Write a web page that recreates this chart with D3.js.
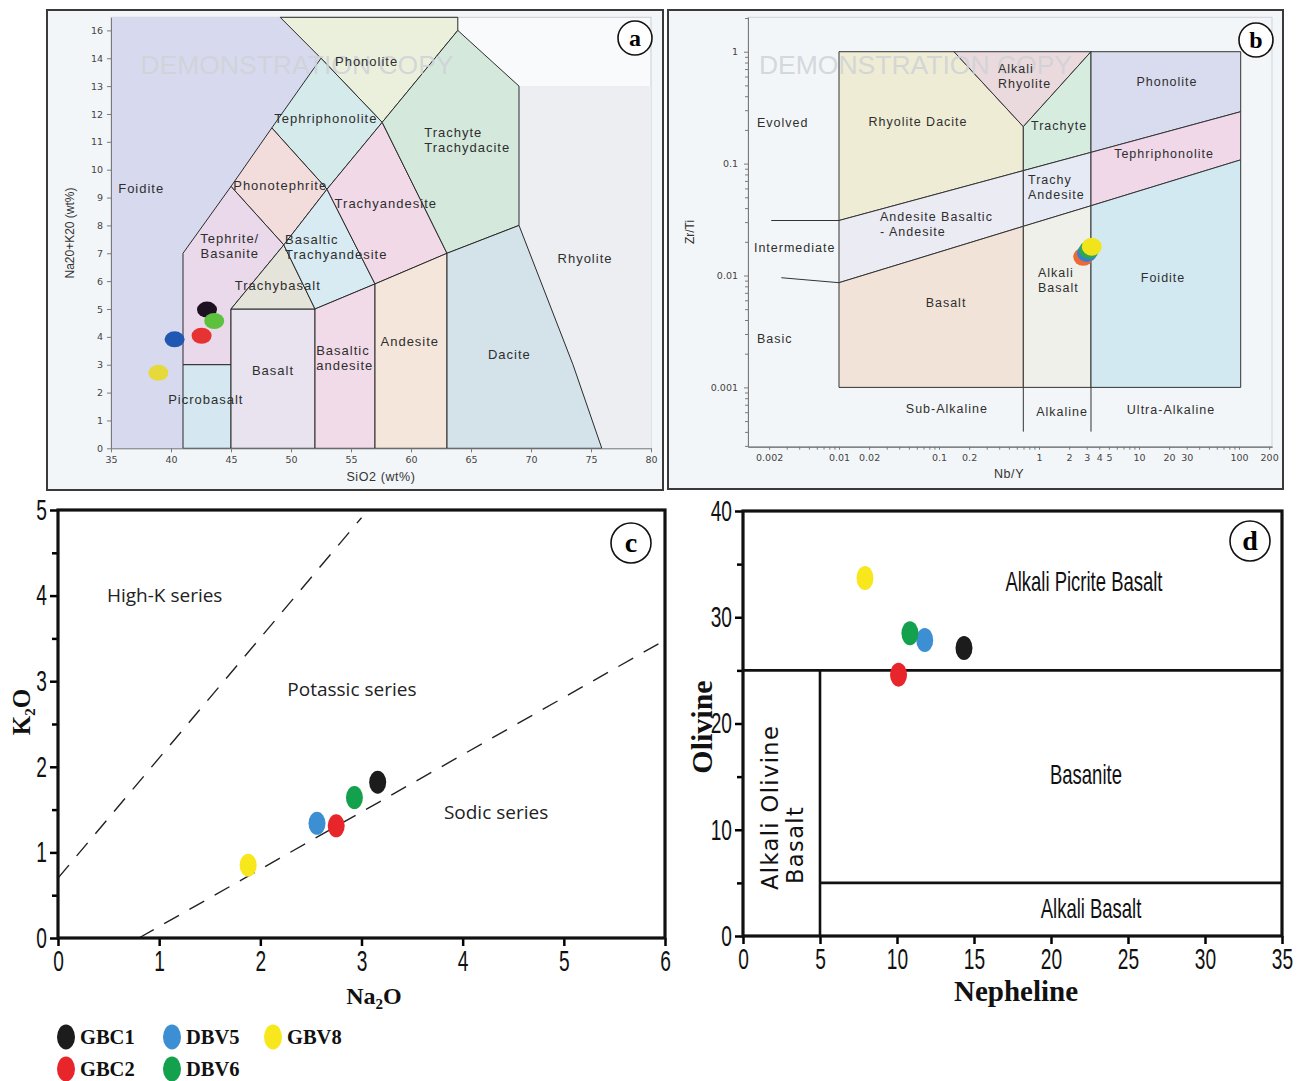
<!DOCTYPE html>
<html>
<head>
<meta charset="utf-8">
<script src="https://cdn.jsdelivr.net/npm/d3@7"></script>
<style>
  body { margin: 0; background: #fff; }
  svg { display: block; }
</style>
</head>
<body>
<svg id="chart" width="1308" height="1081"></svg>
<script>
// samples and their colours (legend + panels c, d)
const samples = ["GBC1", "GBC2", "DBV5", "DBV6", "GBV8"];
const sampleColors = ["#1c1c1c", "#e8252a", "#3c8fd3", "#14a14d", "#f8e71c"];
const legendOrder = ["GBC1", "DBV5", "GBV8", "GBC2", "DBV6"];

// panel a: TAS diagram (SiO2 vs Na2O+K2O)
const tasSiO2 = [43.0, 42.55, 40.3, 43.6, 38.95];
const tasAlkali = [4.98, 4.04, 3.91, 4.57, 2.71];
const tasColors = ["#1d1020", "#e53232", "#1f58b3", "#5cc13d", "#e6d93c"];
const tasOrder = [4, 2, 1, 0, 3];
const tasXTicks = [35, 40, 45, 50, 55, 60, 65, 70, 75, 80];
const tasYTicks = [0, 1, 2, 3, 4, 5, 6, 7, 8, 9, 10, 11, 12, 13, 14, 15];
const tasYTickLabels = ["0", "1", "2", "3", "4", "5", "6", "7", "8", "9", "10", "11", "12", "13", "14", "16"];

const tasFields = [
  { name: "Foidite", fill: "#d7daee", line: false, pts: [[35,0],[41,0],[41,7],[45,9.4],[48.4,11.5],[52.5,14],[49.1,15.47],[35,15.47]] },
  { name: "Rhyolite", fill: "#eceef2", line: false, pts: [[69,8],[69,13],[80,13],[80,0],[75.9,0],[73.5,3]] },
  { name: "Phonolite", fill: "#ebf0dd", line: true, pts: [[49.1,15.47],[52.5,14],[57.6,11.7],[63.9,15],[63.9,15.47]] },
  { name: "Tephriphonolite", fill: "#d5eaea", line: true, pts: [[48.4,11.5],[52.5,14],[57.6,11.7],[53,9.3]] },
  { name: "Phonotephrite", fill: "#f2dcdc", line: true, pts: [[45,9.4],[48.4,11.5],[53,9.3],[49.4,7.3]] },
  { name: "Tephrite", fill: "#ead9ea", line: true, pts: [[41,7],[45,9.4],[49.4,7.3],[45,5],[45,3],[41,3]] },
  { name: "Picrobasalt", fill: "#d5e7f0", line: true, pts: [[41,0],[41,3],[45,3],[45,0]] },
  { name: "Basalt", fill: "#e8e3ef", line: true, pts: [[45,0],[45,5],[52,5],[52,0]] },
  { name: "Trachybasalt", fill: "#e5e4db", line: true, pts: [[45,5],[49.4,7.3],[52,5]] },
  { name: "BasTrachyandesite", fill: "#d8ebf3", line: true, pts: [[49.4,7.3],[53,9.3],[57,5.9],[52,5]] },
  { name: "Trachyandesite", fill: "#f1d9e8", line: true, pts: [[53,9.3],[57.6,11.7],[63,7],[57,5.9]] },
  { name: "Trachyte", fill: "#d4e9dc", line: true, pts: [[57.6,11.7],[63.9,15],[69,13],[69,8],[63,7]] },
  { name: "BasAndesite", fill: "#f2dbe8", line: true, pts: [[52,0],[52,5],[57,5.9],[57,0]] },
  { name: "Andesite", fill: "#f4e6da", line: true, pts: [[57,0],[57,5.9],[63,7],[63,0]] },
  { name: "Dacite", fill: "#d4e3ea", line: true, pts: [[63,0],[63,7],[69,8],[73.5,3],[75.9,0]] }
];

const tasLabels = [
  { t: ["Phonolite"], x: 56.3, y: 13.9, a: "middle" },
  { t: ["Tephriphonolite"], x: 52.9, y: 11.85, a: "middle" },
  { t: ["Trachyte", "Trachydacite"], x: 61.1, y: 11.35, a: "start" },
  { t: ["Foidite"], x: 35.6, y: 9.31, a: "start" },
  { t: ["Phonotephrite"], x: 49.1, y: 9.45, a: "middle" },
  { t: ["Trachyandesite"], x: 57.9, y: 8.8, a: "middle" },
  { t: ["Tephrite/", "Basanite"], x: 44.9, y: 7.55, a: "middle" },
  { t: ["Basaltic", "Trachyandesite"], x: 49.5, y: 7.5, a: "start" },
  { t: ["Rhyolite"], x: 74.5, y: 6.83, a: "middle" },
  { t: ["Trachybasalt"], x: 48.9, y: 5.86, a: "middle" },
  { t: ["Andesite"], x: 59.9, y: 3.82, a: "middle" },
  { t: ["Basaltic", "andesite"], x: 52.1, y: 3.5, a: "start" },
  { t: ["Dacite"], x: 68.2, y: 3.38, a: "middle" },
  { t: ["Basalt"], x: 48.5, y: 2.81, a: "middle" },
  { t: ["Picrobasalt"], x: 42.9, y: 1.77, a: "middle" }
];

// panel b: Zr/Ti vs Nb/Y (log-log)
const bNames = ["GBC2", "DBV5", "DBV6", "GBV8"];
const bNbY = [2.77, 3.02, 3.16, 3.37];
const bZrTi = [0.0147, 0.0159, 0.0169, 0.0181];
const bColors = ["#ef6a33", "#3a7ed2", "#2fa654", "#f2e41a"];
const bXTicks = [0.002, 0.01, 0.02, 0.1, 0.2, 1, 2, 3, 4, 5, 10, 20, 30, 100, 200];
const bYTicks = [1, 0.1, 0.01, 0.001];

const bFields = [
  { name: "Rhyolite Dacite", fill: "#eeecd4", pts: [[0.01,1],[0.1413,1],[0.697,0.214],[0.697,0.0865],[0.01,0.031]] },
  { name: "Alkali Rhyolite", fill: "#eadadd", pts: [[0.1413,1],[3.31,1],[0.697,0.214]] },
  { name: "Trachyte", fill: "#d6ecdf", pts: [[0.697,0.214],[3.31,1],[3.31,0.126],[0.697,0.0865]] },
  { name: "Phonolite", fill: "#d9dcee", pts: [[3.31,1],[104,1],[104,0.291],[3.31,0.126]] },
  { name: "Andesite", fill: "#ebebf4", pts: [[0.01,0.031],[0.697,0.0865],[0.697,0.0275],[0.01,0.00862]] },
  { name: "Trachy Andesite", fill: "#e6eaf4", pts: [[0.697,0.0865],[3.31,0.126],[3.31,0.042],[0.697,0.0275]] },
  { name: "Tephriphonolite", fill: "#f0d8e8", pts: [[3.31,0.126],[104,0.291],[104,0.108],[3.31,0.042]] },
  { name: "Basalt", fill: "#f1e3d8", pts: [[0.01,0.00862],[0.697,0.0275],[0.697,0.001],[0.01,0.001]] },
  { name: "Alkali Basalt", fill: "#eff0e9", pts: [[0.697,0.0275],[3.31,0.042],[3.31,0.001],[0.697,0.001]] },
  { name: "Foidite", fill: "#d3e9f2", pts: [[3.31,0.042],[104,0.108],[104,0.001],[3.31,0.001]] }
];
const bExtraLines = [
  [[0.0021, 0.031], [0.01, 0.031]],
  [[0.00265, 0.00955], [0.01, 0.00862]],
  [[0.697, 0.001], [0.697, 0.000402]],
  [[3.31, 0.001], [3.31, 0.000402]]
];
const bLabels = [
  { t: ["Evolved"], x: 0.00151, y: 0.231, a: "start" },
  { t: ["Rhyolite Dacite"], x: 0.0617, y: 0.235, a: "middle" },
  { t: ["Alkali", "Rhyolite"], x: 0.389, y: 0.70, a: "start" },
  { t: ["Phonolite"], x: 19.05, y: 0.536, a: "middle" },
  { t: ["Trachyte"], x: 0.832, y: 0.217, a: "start" },
  { t: ["Tephriphonolite"], x: 17.8, y: 0.124, a: "middle" },
  { t: ["Trachy", "Andesite"], x: 0.776, y: 0.0713, a: "start" },
  { t: ["Andesite Basaltic", "- Andesite"], x: 0.0257, y: 0.0333, a: "start" },
  { t: ["Intermediate"], x: 0.00141, y: 0.0176, a: "start" },
  { t: ["Alkali", "Basalt"], x: 0.977, y: 0.01052, a: "start" },
  { t: ["Foidite"], x: 17.4, y: 0.0095, a: "middle" },
  { t: ["Basalt"], x: 0.1175, y: 0.00568, a: "middle" },
  { t: ["Basic"], x: 0.00151, y: 0.00271, a: "start" },
  { t: ["Sub-Alkaline"], x: 0.120, y: 0.000641, a: "middle" },
  { t: ["Alkaline"], x: 1.70, y: 0.000603, a: "middle" },
  { t: ["Ultra-Alkaline"], x: 20.9, y: 0.000631, a: "middle" }
];

// panel c: K2O vs Na2O
const cNa2O = [3.16, 2.75, 2.56, 2.93, 1.88];
const cK2O = [1.82, 1.31, 1.34, 1.64, 0.85];
const cDashLines = [
  [[0, 0.7], [3.0, 4.91]],
  [[0.8, 0], [6, 3.48]]
];
const cLabels = [
  { t: "High-K series", x: 0.484, y: 4.0, a: "start" },
  { t: "Potassic series", x: 2.905, y: 2.9, a: "middle" },
  { t: "Sodic series", x: 4.33, y: 1.47, a: "middle" }
];

// panel d: Olivine vs Nepheline
const dNe = [14.35, 10.1, 11.8, 10.84, 7.92];
const dOl = [27.1, 24.6, 27.85, 28.5, 33.7];
const dLines = [
  [[0, 25], [35, 25]],
  [[5, 25], [5, 0]],
  [[5, 5], [35, 5]]
];
const dLabels = [
  { t: "Alkali Picrite Basalt", x: 22.14, y: 33.4 },
  { t: "Basanite", x: 22.27, y: 15.24 },
  { t: "Alkali Basalt", x: 22.6, y: 2.63 }
];

const svg = d3.select("#chart");
const sansA = "'Liberation Sans', Arial, sans-serif";
const serif = "'Liberation Serif', 'Times New Roman', serif";

function multiLabel(g, lab, sx, sy, size, lh) {
  const t = g.append("text")
    .attr("text-anchor", lab.a)
    .attr("font-family", sansA)
    .attr("font-size", size)
    .attr("letter-spacing", 1)
    .attr("fill", "#2e2e2e");
  lab.t.forEach((s, i) => {
    t.append("tspan")
      .attr("x", sx(lab.x))
      .attr("y", sy(lab.y) + i * lh)
      .attr("dy", "0.35em")
      .text(s);
  });
}

function panelTag(x, y, r, letter, size) {
  svg.append("circle").attr("cx", x).attr("cy", y).attr("r", r)
    .attr("fill", "#fff").attr("stroke", "#111").attr("stroke-width", 1.6);
  svg.append("text").attr("x", x).attr("y", y).attr("dy", "0.33em")
    .attr("text-anchor", "middle").attr("font-family", serif)
    .attr("font-weight", "bold").attr("font-size", size).text(letter);
}

function styleSmallAxis(g) {
  g.select(".domain").attr("stroke", "#7a7a7a");
  g.selectAll(".tick line").attr("stroke", "#7a7a7a");
  g.selectAll(".tick text").attr("font-family", "'DejaVu Sans', sans-serif")
    .attr("font-size", 9.5).attr("fill", "#444");
}

// ================= panel a =================
const ga = svg.append("g");
ga.append("rect").attr("x", 47).attr("y", 10).attr("width", 616).attr("height", 480)
  .attr("fill", "#f3f6f8").attr("stroke", "#3a3a3a").attr("stroke-width", 2);

const xa = d3.scaleLinear().domain([35, 80]).range([111, 651]);
const ya = d3.scaleLinear().domain([0, 15.47]).range([448.3, 17.3]);

ga.append("rect").attr("x", xa(35)).attr("y", ya(15.47))
  .attr("width", xa(80) - xa(35)).attr("height", ya(0) - ya(15.47))
  .attr("fill", "#f8fafb").attr("stroke", "#c9ced3");

const lineA = d3.line().x(d => xa(d[0])).y(d => ya(d[1]));
ga.selectAll("path.field").data(tasFields).join("path")
  .attr("class", "field")
  .attr("d", d => lineA(d.pts) + "Z")
  .attr("fill", d => d.fill)
  .attr("stroke", d => d.line ? "#2a2a2a" : "none")
  .attr("stroke-width", 1);

ga.append("text").attr("x", 297).attr("y", 65).attr("dy", "0.35em")
  .attr("text-anchor", "middle").attr("font-family", sansA).attr("font-size", 26.5)
  .attr("fill", "#cfd2d6").attr("fill-opacity", 0.85).text("DEMONSTRATION COPY");

tasLabels.forEach(l => multiLabel(ga, l, xa, ya, 13, 15));

ga.selectAll("ellipse").data(tasOrder).join("ellipse")
  .attr("cx", i => xa(tasSiO2[i])).attr("cy", i => ya(tasAlkali[i]))
  .attr("rx", 10).attr("ry", 8).attr("fill", i => tasColors[i]);

ga.append("g").attr("transform", `translate(0,${ya(0)})`)
  .call(d3.axisBottom(xa).tickValues(tasXTicks).tickSize(4).tickSizeOuter(0).tickPadding(4))
  .call(styleSmallAxis);
ga.append("g").attr("transform", `translate(${xa(35)},0)`)
  .call(d3.axisLeft(ya).tickValues(tasYTicks).tickFormat((d, i) => tasYTickLabels[i])
    .tickSize(4).tickSizeOuter(0).tickPadding(4))
  .call(styleSmallAxis);

ga.append("text").attr("transform", "translate(74,233) rotate(-90)")
  .attr("text-anchor", "middle").attr("font-family", sansA).attr("font-size", 12)
  .attr("fill", "#333").text("Na20+K20 (wt%)");
ga.append("text").attr("x", 381).attr("y", 481)
  .attr("text-anchor", "middle").attr("font-family", sansA).attr("font-size", 12.5)
  .attr("letter-spacing", 0.6).attr("fill", "#333").text("SiO2 (wt%)");

// ================= panel b =================
const gb = svg.append("g");
gb.append("rect").attr("x", 668).attr("y", 10).attr("width", 615).attr("height", 479)
  .attr("fill", "#f3f6f8").attr("stroke", "#3a3a3a").attr("stroke-width", 2);

const xb = d3.scaleLog().domain([0.00123, 213.8]).range([748, 1272]);
const yb = d3.scaleLog().domain([0.000295, 2.03]).range([446.7, 17.3]);

gb.append("rect").attr("x", 748).attr("y", 17.3).attr("width", 524).attr("height", 429.4)
  .attr("fill", "none").attr("stroke", "#cfd4d8");

const lineB = d3.line().x(d => xb(d[0])).y(d => yb(d[1]));
gb.selectAll("path.field").data(bFields).join("path")
  .attr("class", "field")
  .attr("d", d => lineB(d.pts) + "Z")
  .attr("fill", d => d.fill)
  .attr("stroke", "#333").attr("stroke-width", 1);
gb.selectAll("path.extra").data(bExtraLines).join("path")
  .attr("class", "extra").attr("d", d => lineB(d))
  .attr("fill", "none").attr("stroke", "#333").attr("stroke-width", 1);

gb.append("text").attr("x", 915.5).attr("y", 65).attr("dy", "0.35em")
  .attr("text-anchor", "middle").attr("font-family", sansA).attr("font-size", 26.5)
  .attr("fill", "#cfd2d6").attr("fill-opacity", 0.85).text("DEMONSTRATION COPY");

bLabels.forEach(l => multiLabel(gb, l, xb, yb, 12.5, 15));

gb.selectAll("ellipse").data(bNames).join("ellipse")
  .attr("cx", (d, i) => xb(bNbY[i])).attr("cy", (d, i) => yb(bZrTi[i]))
  .attr("rx", 10).attr("ry", 9).attr("fill", (d, i) => bColors[i]);

const bMinorX = xb.ticks().filter(v => bXTicks.indexOf(v) < 0);
const bMinorY = yb.ticks().filter(v => bYTicks.indexOf(v) < 0);
gb.append("g").attr("transform", "translate(0,446.7)")
  .call(d3.axisBottom(xb).tickValues(bMinorX).tickFormat("").tickSize(3).tickSizeOuter(0))
  .call(styleSmallAxis);
gb.append("g").attr("transform", "translate(0,446.7)")
  .call(d3.axisBottom(xb).tickValues(bXTicks).tickFormat(d3.format("~g")).tickSize(3).tickSizeOuter(0).tickPadding(5))
  .call(styleSmallAxis);
gb.append("g").attr("transform", "translate(748,0)")
  .call(d3.axisLeft(yb).tickValues(bMinorY).tickFormat("").tickSize(3).tickSizeOuter(0))
  .call(styleSmallAxis);
gb.append("g").attr("transform", "translate(748,0)")
  .call(d3.axisLeft(yb).tickValues(bYTicks).tickFormat(d3.format("~g")).tickSize(4).tickSizeOuter(0).tickPadding(6))
  .call(styleSmallAxis);

gb.append("text").attr("transform", "translate(694,232) rotate(-90)")
  .attr("text-anchor", "middle").attr("font-family", sansA).attr("font-size", 12)
  .attr("fill", "#333").text("Zr/Ti");
gb.append("text").attr("x", 1009).attr("y", 478)
  .attr("text-anchor", "middle").attr("font-family", sansA).attr("font-size", 12.5)
  .attr("letter-spacing", 0.6).attr("fill", "#333").text("Nb/Y");

// ================= panels c & d helpers =================
function condTicks(g, isLeft) {
  g.selectAll(".tick text")
    .attr("font-family", sansA).attr("font-size", 29).attr("fill", "#111")
    .attr("transform", "scale(0.66,1)");
  if (isLeft) g.selectAll(".tick text").attr("x", -11 / 0.66);
}
function boxAxes(g, sx, sy, xTicks, yMajor, yMinor) {
  const fmt = d3.format("d");
  g.append("g").attr("transform", `translate(0,${sy.range()[0]})`)
    .call(d3.axisBottom(sx).tickValues(xTicks).tickFormat(fmt).tickSize(8).tickSizeOuter(0).tickPadding(4))
    .call(a => { a.select(".domain").remove(); a.selectAll(".tick line").attr("stroke-width", 2.5); })
    .call(a => condTicks(a, false));
  g.append("g").attr("transform", `translate(${sx.range()[0]},0)`)
    .call(d3.axisLeft(sy).tickValues(yMinor).tickFormat("").tickSize(6).tickSizeOuter(0))
    .call(a => { a.select(".domain").remove(); a.selectAll(".tick line").attr("stroke-width", 2.5); });
  g.append("g").attr("transform", `translate(${sx.range()[0]},0)`)
    .call(d3.axisLeft(sy).tickValues(yMajor).tickFormat(fmt).tickSize(8).tickSizeOuter(0))
    .call(a => { a.select(".domain").remove(); a.selectAll(".tick line").attr("stroke-width", 2.5); })
    .call(a => condTicks(a, true));
  g.append("rect")
    .attr("x", sx.range()[0]).attr("y", sy.range()[1])
    .attr("width", sx.range()[1] - sx.range()[0]).attr("height", sy.range()[0] - sy.range()[1])
    .attr("fill", "none").attr("stroke", "#111").attr("stroke-width", 3.2);
}

// ================= panel c =================
const gc = svg.append("g");
const xc = d3.scaleLinear().domain([0, 6]).range([58, 665]);
const yc = d3.scaleLinear().domain([0, 5]).range([938, 510]);
const lineC = d3.line().x(d => xc(d[0])).y(d => yc(d[1]));

gc.selectAll("path.dash").data(cDashLines).join("path")
  .attr("class", "dash").attr("d", d => lineC(d))
  .attr("fill", "none").attr("stroke", "#222").attr("stroke-width", 1.4)
  .attr("stroke-dasharray", "17,12");

gc.selectAll("text.lab").data(cLabels).join("text")
  .attr("class", "lab")
  .attr("x", d => xc(d.x)).attr("y", d => yc(d.y)).attr("dy", "0.35em")
  .attr("text-anchor", d => d.a)
  .attr("font-family", "'Open Sans', sans-serif").attr("font-size", 19)
  .attr("fill", "#222").text(d => d.t);

gc.selectAll("ellipse").data(samples).join("ellipse")
  .attr("cx", (d, i) => xc(cNa2O[i])).attr("cy", (d, i) => yc(cK2O[i]))
  .attr("rx", 8.5).attr("ry", 11.5).attr("fill", (d, i) => sampleColors[i]);

boxAxes(gc, xc, yc, d3.range(0, 7, 1), d3.range(0, 6, 1), d3.range(0.5, 5, 1));

const kTitle = gc.append("text").attr("transform", "translate(30,712) rotate(-90)")
  .attr("text-anchor", "middle").attr("font-family", serif).attr("font-weight", "bold")
  .attr("font-size", 25).attr("fill", "#111");
kTitle.append("tspan").text("K");
kTitle.append("tspan").attr("font-size", 15).attr("dy", 5).text("2");
kTitle.append("tspan").attr("dy", -5).text("O");

const naTitle = gc.append("text").attr("x", 374).attr("y", 1004)
  .attr("text-anchor", "middle").attr("font-family", serif).attr("font-weight", "bold")
  .attr("font-size", 24).attr("fill", "#111");
naTitle.append("tspan").text("Na");
naTitle.append("tspan").attr("font-size", 15).attr("dy", 5).text("2");
naTitle.append("tspan").attr("dy", -5).text("O");

// ================= panel d =================
const gd = svg.append("g");
const xd = d3.scaleLinear().domain([0, 35]).range([743, 1282]);
const yd = d3.scaleLinear().domain([0, 40]).range([936, 511]);
const lineD = d3.line().x(d => xd(d[0])).y(d => yd(d[1]));

gd.selectAll("path.fld").data(dLines).join("path")
  .attr("class", "fld").attr("d", d => lineD(d))
  .attr("fill", "none").attr("stroke", "#111").attr("stroke-width", 2.6);

gd.selectAll("text.lab").data(dLabels).join("text")
  .attr("class", "lab")
  .attr("transform", d => `translate(${xd(d.x)},${yd(d.y)}) scale(0.66,1)`)
  .attr("dy", "0.35em").attr("text-anchor", "middle")
  .attr("font-family", sansA).attr("font-size", 28).attr("fill", "#111")
  .text(d => d.t);

const olv = gd.append("text")
  .attr("transform", `translate(${xd(1.75)},${yd(4.33)}) rotate(-90)`)
  .attr("font-family", "'DejaVu Sans', sans-serif").attr("font-size", 22.5)
  .attr("letter-spacing", 1.4).attr("fill", "#111");
olv.append("tspan").attr("x", 0).attr("y", 0).attr("dy", "0.35em").text("Alkali Olivine");
olv.append("tspan").attr("x", 6).attr("y", 25).attr("dy", "0.35em").text("Basalt");

gd.selectAll("ellipse").data(samples).join("ellipse")
  .attr("cx", (d, i) => xd(dNe[i])).attr("cy", (d, i) => yd(dOl[i]))
  .attr("rx", 8.5).attr("ry", 12).attr("fill", (d, i) => sampleColors[i]);

boxAxes(gd, xd, yd, d3.range(0, 40, 5), d3.range(0, 41, 10), d3.range(5, 40, 10));

gd.append("text").attr("transform", "translate(712,727) rotate(-90)")
  .attr("text-anchor", "middle").attr("font-family", serif).attr("font-weight", "bold")
  .attr("font-size", 30).attr("fill", "#111").text("Olivine");
gd.append("text").attr("x", 1016).attr("y", 1001)
  .attr("text-anchor", "middle").attr("font-family", serif).attr("font-weight", "bold")
  .attr("font-size", 29).attr("fill", "#111").text("Nepheline");

// ================= tags & legend =================
panelTag(635, 38, 17, "a", 24);
panelTag(1256, 40, 17, "b", 24);
panelTag(631, 543, 20, "c", 28);
panelTag(1250, 541, 20, "d", 28);

const legCols = [66, 172, 273];
const legRows = [1037, 1069];
const leg = svg.append("g").selectAll("g").data(legendOrder).join("g")
  .attr("transform", (d, i) => `translate(${legCols[i % 3]},${legRows[Math.floor(i / 3)]})`);
leg.append("ellipse").attr("rx", 9).attr("ry", 12.5)
  .attr("fill", d => sampleColors[samples.indexOf(d)]);
leg.append("text").attr("x", 14).attr("dy", "0.35em")
  .attr("font-family", serif).attr("font-weight", "bold").attr("font-size", 20.5)
  .attr("fill", "#111").text(d => d);
</script>
</body>
</html>
